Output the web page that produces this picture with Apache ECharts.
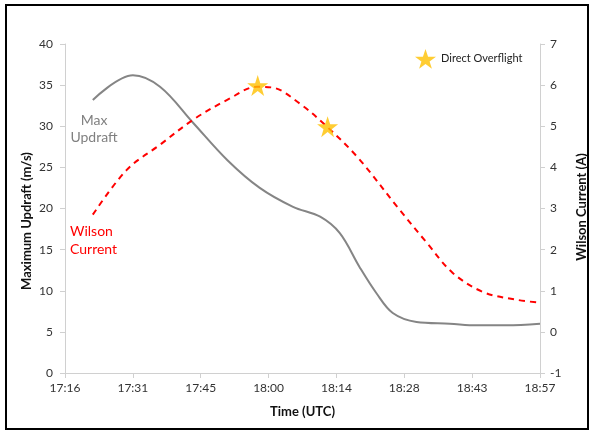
<!DOCTYPE html>
<html><head><meta charset="utf-8">
<script src="https://cdn.jsdelivr.net/npm/echarts@6/dist/echarts.min.js"></script>
<style>html,body{margin:0;padding:0;background:#fff}#c{width:592px;height:432px}</style>
</head><body><div id="c"></div>
<script>
// x positions are in tick-interval units (0 = 17:16, 7 = 18:57)
var timeLabels = ['17:16','17:31','17:45','18:00','18:14','18:28','18:43','18:57'];
var updraftX = [0.41,1.00,1.40,1.89,2.39,2.87,3.36,3.76,4.05,4.34,4.59,4.83,5.18,5.67,6.07,6.51,7.00];
var updraftY = [33.2,36.2,34.8,30.4,25.9,22.5,20.2,19.0,17.0,12.9,9.7,7.3,6.2,6.0,5.8,5.8,6.0];
var wilsonX = [0.41,0.91,1.40,1.89,2.39,2.83,3.06,3.46,3.86,4.32,4.93,5.33,5.71,6.16,6.66,7.00];
var wilsonY = [2.85,3.94,4.55,5.16,5.64,5.96,5.94,5.55,4.99,4.23,2.97,2.17,1.44,0.97,0.78,0.71];
var overflightX = [2.84,3.87];
var overflightY = [5.99,4.99];

function pairs(xs, ys){ return xs.map(function(x,i){return [x, ys[i]];}); }
var star = 'path://M50,0 L61.8,35.1 L98.1,35.1 L68.8,56.7 L79.4,90.9 L50,69.1 L20.6,90.9 L31.2,56.7 L1.9,35.1 L38.2,35.1 Z';
var font = 'Lato';
var chart = echarts.init(document.getElementById('c'), null, {renderer:'canvas'});
chart.setOption({
  animation:false,
  backgroundColor:'#fff',
  textStyle:{fontFamily:font},
  grid:{left:65, right:52, top:44, bottom:59},
  legend:{data:[{name:'Direct Overflight', icon:star}], left:410, top:44, itemWidth:21, itemHeight:20, itemGap:8,
    textStyle:{fontFamily:font, fontSize:11, color:'#222'}},
  xAxis:{type:'value', min:0, max:7, interval:1,
    name:'Time (UTC)', nameLocation:'middle', nameGap:32,
    nameTextStyle:{fontFamily:font, fontSize:13, fontWeight:'bold', color:'#111'},
    axisLine:{lineStyle:{color:'#d0d0d0'}}, axisTick:{show:true, length:5, lineStyle:{color:'#d0d0d0'}},
    splitLine:{show:false},
    axisLabel:{fontFamily:font, fontSize:12, color:'#333', margin:9, formatter:function(v){return timeLabels[Math.round(v)];}}},
  yAxis:[
    {type:'value', min:0, max:40, interval:5, position:'left',
     axisLine:{show:true, lineStyle:{color:'#d0d0d0'}}, axisTick:{show:true, length:5, lineStyle:{color:'#d0d0d0'}},
     splitLine:{show:false}, axisLabel:{fontFamily:font, fontSize:12, color:'#333', margin:12}},
    {type:'value', min:-1, max:7, interval:1, position:'right',
     axisLine:{show:true, lineStyle:{color:'#d0d0d0'}}, axisTick:{show:true, length:5, lineStyle:{color:'#d0d0d0'}},
     splitLine:{show:false}, axisLabel:{fontFamily:font, fontSize:12, color:'#333', margin:10}}
  ],
  series:[
    {name:'Max Updraft', type:'line', yAxisIndex:0, smooth:0.35, showSymbol:false,
     data:pairs(updraftX, updraftY), lineStyle:{color:'#858585', width:2}},
    {name:'Wilson Current', type:'line', yAxisIndex:1, smooth:0.35, showSymbol:false,
     data:pairs(wilsonX, wilsonY), lineStyle:{color:'#ff0000', width:2, type:[6,5]}},
    {name:'Direct Overflight', type:'scatter', yAxisIndex:1, symbol:star, symbolSize:21,
     itemStyle:{color:'#ffc000'}, data:pairs(overflightX, overflightY), z:5}
  ],
  graphic:[
    {type:'rect', shape:{x:6, y:5, width:582, height:424}, style:{fill:'none', stroke:'#000', lineWidth:2}, z:100},
    {type:'text', x:27, y:221, rotation:Math.PI/2, style:{text:'Maximum Updraft (m/s)', fill:'#111', fontFamily:'Lato', fontWeight:'bold', fontSize:13, align:'center', verticalAlign:'middle'}},
    {type:'text', x:582, y:207, rotation:Math.PI/2, style:{text:'Wilson Current (A)', fill:'#111', fontFamily:'Lato', fontWeight:'bold', fontSize:13, align:'center', verticalAlign:'middle'}},
    {type:'text', x:94, y:112, style:{text:'Max\nUpdraft', fill:'#808080', fontFamily:'Lato', fontSize:14, align:'center', lineHeight:17}},
    {type:'text', x:70, y:222, style:{text:'Wilson\nCurrent', fill:'#ff0000', fontFamily:'Lato', fontSize:14, lineHeight:18}}
  ]
});
</script></body></html>
